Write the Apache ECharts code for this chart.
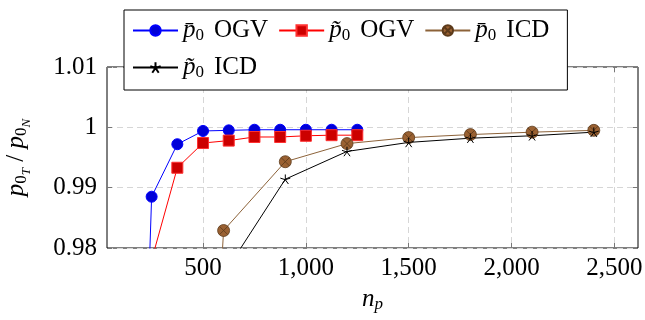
<!DOCTYPE html>
<html>
<head>
<meta charset="utf-8">
<script src="https://cdn.jsdelivr.net/npm/echarts@6/dist/echarts.min.js"></script>
<style>
html, body { margin: 0; padding: 0; background: #fff; }
#chart { width: 645px; height: 320px; }
</style>
</head>
<body>
<div id="chart"></div>
<script>
// series names (accent on p, subscript 0, tag)
var names = ['p̄0 OGV', 'p̃0 OGV', 'p̄0 ICD', 'p̃0 ICD'];
var accents = ['p̄', 'p̃', 'p̄', 'p̃'];
var tags = ['OGV', 'OGV', 'ICD', 'ICD'];

var xTicks = [500, 1000, 1500, 2000, 2500];

// p bar OGV
var barOgvX = [125, 250, 375, 500, 625, 750, 875, 1000, 1125, 1250];
var barOgvY = [0.86, 0.9885, 0.9972, 0.9994, 0.9995, 0.9996, 0.9996, 0.9996, 0.9996, 0.9996];
// p tilde OGV
var tilOgvX = [250, 375, 500, 625, 750, 875, 1000, 1125, 1250];
var tilOgvY = [0.978, 0.9933, 0.9974, 0.9978, 0.9984, 0.9984, 0.9986, 0.9987, 0.9987];
// p bar ICD
var barIcdX = [300, 600, 900, 1200, 1500, 1800, 2100, 2400];
var barIcdY = [0.81, 0.9829, 0.9943, 0.9973, 0.9983, 0.9988, 0.9992, 0.9995];
// p tilde ICD
var tilIcdX = [600, 900, 1200, 1500, 1800, 2100, 2400];
var tilIcdY = [0.9756, 0.9914, 0.9960, 0.9975, 0.9982, 0.9986, 0.9992];

function pairs(xs, ys) {
    var out = [];
    for (var i = 0; i < xs.length; i++) out.push([xs[i], ys[i]]);
    return out;
}

var serif = 'Liberation Serif';
var otimes = 'path://M10 0A10 10 0 1 1 -10 0A10 10 0 1 1 10 0ZM7.07 7.07L-7.07 -7.07M7.07 -7.07L-7.07 7.07';
var star = 'path://M0 0L0 -10M0 0L9.51 -3.09M0 0L5.88 8.09M0 0L-5.88 8.09M0 0L-9.51 -3.09';

var rich = {
    p: { fontFamily: serif, fontSize: 25, fontStyle: 'italic', color: '#000', lineHeight: 27 },
    s: { fontFamily: serif, fontSize: 17, color: '#000', padding: [10, 0, 0, 0], lineHeight: 27 },
    t: { fontFamily: serif, fontSize: 13, fontStyle: 'italic', color: '#000', padding: [20, 0, 0, 0], lineHeight: 27 },
    r: { fontFamily: serif, fontSize: 25, color: '#000', lineHeight: 27 },
    g: { fontFamily: serif, fontSize: 25, color: '#000', lineHeight: 27, padding: [0, 0, 0, 10] }
};

var gridDash = { show: true, lineStyle: { color: '#d6d6d6', type: [6, 4], width: 1 } };

var option = {
    animation: false,
    textStyle: { fontFamily: serif },
    grid: {
        left: 107, right: 7, top: 67, bottom: 72,
        outerBoundsMode: 'none',
        show: true, borderColor: '#000', borderWidth: 1, backgroundColor: '#fff'
    },
    legend: {
        data: names,
        left: 124, top: 10,
        width: 455,
        padding: [7, 18, 9, 8],
        itemWidth: 45, itemHeight: 13, itemGap: 10,
        backgroundColor: '#fff',
        borderColor: '#000', borderWidth: 1, borderRadius: 0,
        textStyle: { fontFamily: serif, fontSize: 25, color: '#000', lineHeight: 27, rich: rich },
        formatter: function (n) {
            var i = names.indexOf(n);
            return '{p|' + accents[i] + '}{s|0}{g|' + tags[i] + '}';
        }
    },
    xAxis: [{
        type: 'value', min: 33, max: 2615,
        name: '{p|n}{t|p}',
        nameLocation: 'middle', nameGap: 33,
        nameTextStyle: { rich: { p: rich.p, t: { fontFamily: serif, fontSize: 17, fontStyle: 'italic', color: '#000', padding: [10, 0, 0, 0], lineHeight: 27 } } },
        axisLine: { show: false },
        axisTick: { inside: true, length: 5, customValues: xTicks, lineStyle: { color: '#777' } },
        axisLabel: {
            customValues: xTicks, margin: 8,
            fontFamily: serif, fontSize: 25, color: '#000',
            formatter: function (v) { return v.toLocaleString('en-US'); }
        },
        splitLine: gridDash
    }, {
        type: 'value', min: 33, max: 2615, position: 'top',
        axisLine: { show: false },
        axisTick: { inside: true, length: 5, customValues: xTicks, lineStyle: { color: '#777' } },
        axisLabel: { show: false },
        splitLine: { show: false }
    }],
    yAxis: [{
        type: 'value', min: 0.98, max: 1.01, interval: 0.01,
        name: '{p|p}{s|0}{t|T}{r| / }{p|p}{s|0}{t|N}',
        nameLocation: 'middle', nameGap: 77, nameRotate: 90,
        nameTextStyle: { rich: rich },
        axisLine: { show: false },
        axisTick: { inside: true, length: 5, lineStyle: { color: '#777' } },
        axisLabel: {
            margin: 10, fontFamily: serif, fontSize: 25, color: '#000',
            formatter: function (v) { return String(+v.toFixed(2)); }
        },
        splitLine: gridDash
    }, {
        type: 'value', min: 0.98, max: 1.01, interval: 0.01, position: 'right',
        axisLine: { show: false },
        axisTick: { inside: true, length: 5, lineStyle: { color: '#777' } },
        axisLabel: { show: false },
        splitLine: { show: false }
    }],
    series: [{
        name: names[0], type: 'line', data: pairs(barOgvX, barOgvY),
        symbol: 'circle', symbolSize: 11,
        lineStyle: { color: '#0000ff', width: 1 },
        itemStyle: { color: '#0000d8', borderColor: '#0000ff', borderWidth: 1 }
    }, {
        name: names[1], type: 'line', data: pairs(tilOgvX, tilOgvY),
        symbol: 'rect', symbolSize: 11,
        lineStyle: { color: '#ff0000', width: 1 },
        itemStyle: { color: '#cc0000', borderColor: '#ff3030', borderWidth: 1 }
    }, {
        name: names[2], type: 'line', data: pairs(barIcdX, barIcdY),
        symbol: otimes, symbolSize: 12,
        lineStyle: { color: '#8c6239', width: 1 },
        itemStyle: { color: '#9a6132', borderColor: '#5c3a1a', borderWidth: 0.8 }
    }, {
        name: names[3], type: 'line', data: pairs(tilIcdX, tilIcdY),
        symbol: star, symbolSize: 10, symbolKeepAspect: true,
        lineStyle: { color: '#000', width: 1 },
        itemStyle: { color: 'rgba(0,0,0,0)', borderColor: '#000', borderWidth: 1 }
    }]
};

var myChart = echarts.init(document.getElementById('chart'));
myChart.setOption(option);
window.onresize = myChart.resize;
</script>
</body>
</html>
